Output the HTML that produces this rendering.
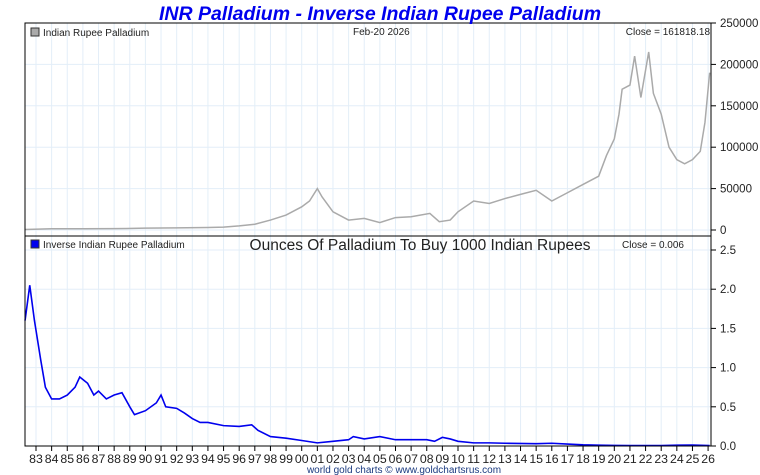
<!DOCTYPE html>
<html><head><meta charset="utf-8"><style>
html,body{margin:0;padding:0;background:#fff;width:760px;height:475px;overflow:hidden;font-family:"Liberation Sans",sans-serif}
svg{display:block}
</style></head><body>
<svg id="c" width="760" height="475" font-family="Liberation Sans, sans-serif"></svg>
<script>
const priceYears=[1982.3,1984,1986,1988,1990,1992,1994,1995,1996,1997,1998,1999,2000,2000.5,2001.0,2001.3,2002,2003,2004,2005,2006,2007,2008.2,2008.8,2009.5,2010,2011,2012,2013,2014,2015,2016,2016.5,2017,2018,2019,2019.5,2020,2020.3,2020.5,2021,2021.3,2021.7,2022.2,2022.5,2023,2023.5,2024,2024.5,2025,2025.5,2025.8,2026.1];
const priceVals=[600,1500,1500,1600,2200,2500,3000,3500,5000,7000,12000,18000,28000,35000,50000,40000,22000,12000,14000,9000,15000,16000,20000,10000,12000,22000,35000,32000,38000,43000,48000,35000,40000,45000,55000,65000,90000,110000,140000,170000,175000,210000,160000,215000,165000,140000,100000,85000,80000,85000,95000,130000,190000];
const invYears=[1982.3,1982.6,1982.9,1983.3,1983.6,1984,1984.5,1985,1985.5,1985.8,1986.3,1986.7,1987,1987.5,1988,1988.5,1989,1989.3,1990,1990.7,1991.0,1991.3,1992,1992.5,1993,1993.5,1994,1995,1996,1996.8,1997.2,1998,1999,2000,2001,2002,2003,2003.3,2004,2005,2006,2007,2008,2008.5,2009,2009.5,2010,2011,2012,2013,2015,2016,2017,2018,2019,2020,2021,2022,2023,2024,2025,2026.1];
const invVals=[1.6,2.05,1.6,1.1,0.75,0.6,0.6,0.65,0.75,0.88,0.8,0.65,0.7,0.6,0.65,0.68,0.5,0.4,0.45,0.55,0.65,0.5,0.48,0.42,0.35,0.3,0.3,0.26,0.25,0.27,0.2,0.12,0.1,0.07,0.04,0.06,0.08,0.12,0.09,0.12,0.08,0.08,0.08,0.06,0.11,0.09,0.06,0.04,0.04,0.035,0.03,0.035,0.025,0.015,0.01,0.007,0.005,0.005,0.006,0.011,0.012,0.006];
const topTicks=[0,50000,100000,150000,200000,250000];
const botTicks=[0,0.5,1.0,1.5,2.0,2.5];
const yearLabels=["83","84","85","86","87","88","89","90","91","92","93","94","95","96","97","98","99","00","01","02","03","04","05","06","07","08","09","10","11","12","13","14","15","16","17","18","19","20","21","22","23","24","25","26"];

const svg=document.getElementById('c');const NS='http://www.w3.org/2000/svg';
function el(t,a,p){const e=document.createElementNS(NS,t);for(const k in a)e.setAttribute(k,a[k]);(p||svg).appendChild(e);return e;}
const X0=25,X1=711;
const xS=y=>36+(y-1983)*15.63;
const yT=v=>230-v*207/250000;
const yB=v=>446-v*78.4;
for(let i=0;i<yearLabels.length;i++){const x=xS(1983+i);
 let g=el('line',{x1:x,x2:x,y1:23,y2:446,stroke:'#e3eef8','stroke-width':1});
 
 let t=el('line',{x1:x,x2:x,y1:446,y2:451,stroke:'#000'});
 
 let l=el('text',{x:x,y:463,'font-size':12.3,'text-anchor':'middle',fill:'#222'});l.textContent=yearLabels[i];
 }
topTicks.forEach(v=>{const y=yT(v);
 let g=el('line',{x1:X0,x2:X1,y1:y,y2:y,stroke:'#e3eef8'});
 let t=el('line',{x1:X1,x2:X1+5,y1:y,y2:y,stroke:'#000'});
 let l=el('text',{x:X1+9,y:y+4,'font-size':11.5,fill:'#222'});l.textContent=v;});
botTicks.forEach(v=>{const y=yB(v);
 let g=el('line',{x1:X0,x2:X1,y1:y,y2:y,stroke:'#e3eef8'});
 let t=el('line',{x1:X1,x2:X1+5,y1:y,y2:y,stroke:'#000'});
 let l=el('text',{x:X1+9,y:y+4,'font-size':11.5,fill:'#222'});l.textContent=v.toFixed(1);});
let p1=el('polyline',{points:priceYears.map((y,i)=>xS(y)+','+yT(priceVals[i])).join(' '),fill:'none',stroke:'#aaa','stroke-width':1.5});

let p2=el('polyline',{points:invYears.map((y,i)=>xS(y)+','+yB(invVals[i])).join(' '),fill:'none',stroke:'#0000ee','stroke-width':1.6});

let f1=el('rect',{x:X0,y:23,width:X1-X0,height:213,fill:'none',stroke:'#000'});
let f2=el('path',{d:`M${X0} 236 V446 H${X1} V236`,fill:'none',stroke:'#000'});
</script>
<svg width="760" height="475" style="position:absolute;left:0;top:0" font-family="Liberation Sans, sans-serif">
<text x="380" y="20" font-size="19.5" font-weight="bold" font-style="italic" fill="#0000ee" text-anchor="middle">INR Palladium - Inverse Indian Rupee Palladium</text>
<rect x="31" y="28" width="8" height="8" fill="#aaa" stroke="#333"/>
<text x="43" y="36" font-size="10" fill="#222">Indian Rupee Palladium</text>
<text x="353" y="35" font-size="10" fill="#222">Feb-20  2026</text>
<text x="710" y="35" font-size="10" fill="#222" text-anchor="end">Close = 161818.18</text>
<rect x="31" y="240" width="8" height="8" fill="#0000ee" stroke="#333"/>
<text x="43" y="248" font-size="10" fill="#222">Inverse Indian Rupee Palladium</text>
<text x="420" y="250" font-size="15.5" fill="#222" text-anchor="middle">Ounces Of Palladium To Buy 1000 Indian Rupees</text>
<text x="622" y="248" font-size="10" fill="#222">Close = 0.006</text>
<text x="404" y="473" font-size="10" fill="#1a3a80" text-anchor="middle">world gold charts © www.goldchartsrus.com</text>
</svg>
</body></html>
